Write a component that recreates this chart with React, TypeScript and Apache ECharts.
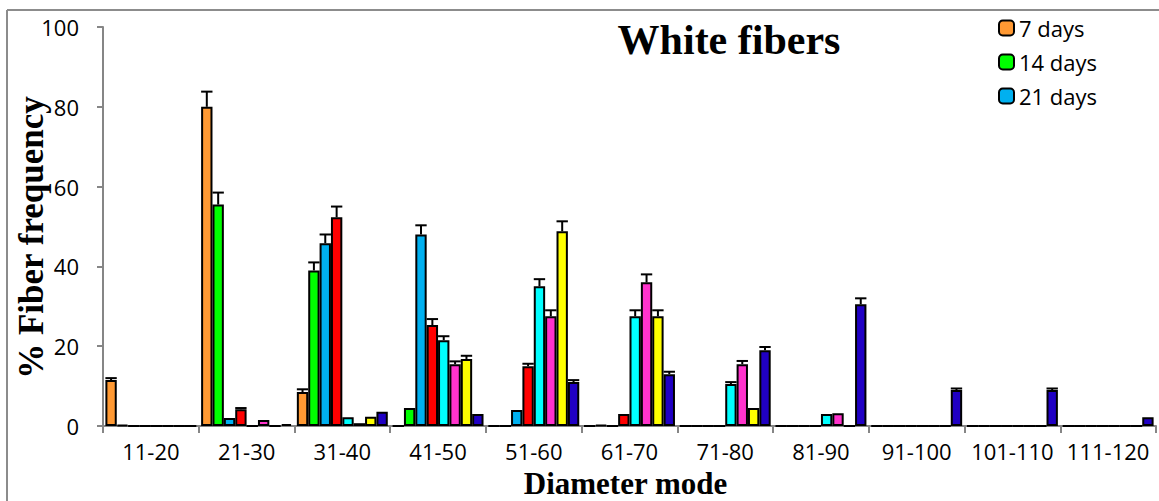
import React, { useEffect, useRef } from "react";
import * as echarts from "echarts";

const categories = ["11-20", "21-30", "31-40", "41-50", "51-60", "61-70", "71-80", "81-90", "91-100", "101-110", "111-120"];
const seriesNames = ["7 days", "14 days", "21 days", "28 days", "35 days", "42 days", "49 days", "56 days"];
const legendNames = ["7 days", "14 days", "21 days"];
const colors = ["#FF9933", "#00FF00", "#00B0F0", "#FF0000", "#00FFFF", "#FF33CC", "#FFFF00", "#2000C4"];
const yTicks = [0, 20, 40, 60, 80, 100];

const d7 = [11.5, 80, 8.5, 0, 0, 0, 0, 0, 0, 0, 0];
const d14 = [0.3, 55.5, 39, 4.5, 0, 0.2, 0, 0, 0, 0, 0];
const d21 = [0, 2, 45.8, 48, 4, 0, 0, 0, 0, 0, 0];
const d28 = [0, 4.2, 52.3, 25.3, 15, 3, 0, 0, 0, 0, 0];
const d35 = [0, 0, 2.2, 21.5, 35, 27.5, 10.5, 3, 0, 0, 0];
const d42 = [0, 1.5, 0.7, 15.5, 27.5, 36, 15.5, 3.2, 0, 0, 0];
const d49 = [0, 0, 2.3, 16.8, 48.8, 27.5, 4.5, 0, 0, 0, 0];
const d56 = [0, 0.5, 3.6, 3, 11, 13, 19, 30.5, 9, 9, 2.2];

const e7 = [0.5, 3.8, 0.7, 0, 0, 0, 0, 0, 0, 0, 0];
const e14 = [0, 3, 2, 0, 0, 0, 0, 0, 0, 0, 0];
const e21 = [0, 0, 2.2, 2.3, 0, 0, 0, 0, 0, 0, 0];
const e28 = [0, 0.3, 2.7, 1.5, 0.6, 0, 0, 0, 0, 0, 0];
const e35 = [0, 0, 0, 1, 1.8, 1.5, 0.5, 0, 0, 0, 0];
const e42 = [0, 0, 0, 0.7, 1.5, 2, 0.8, 0, 0, 0, 0];
const e49 = [0, 0, 0, 0.8, 2.5, 1.5, 0, 0, 0, 0, 0];
const e56 = [0, 0, 0, 0, 0.5, 0.6, 0.8, 1.5, 0.4, 0.4, 0];

const values = [d7, d14, d21, d28, d35, d42, d49, d56];
const errors = [e7, e14, e21, e28, e35, e42, e49, e56];

const GAP = 0.05;

export default function App() {
  const ref = useRef<HTMLDivElement>(null);
  useEffect(() => {
    if (!ref.current) return;
    const chart = echarts.init(ref.current, null, { renderer: "svg" });
    const nS = values.length;
    const errData: number[][] = [];
    values.forEach((arr, s) => {
      arr.forEach((v, i) => {
        if (errors[s][i] > 0) errData.push([i, s, v, errors[s][i]]);
      });
    });
    const barSeries = values.map((arr, s) => ({
      name: seriesNames[s],
      type: "bar",
      data: arr,
      barGap: "0%",
      barCategoryGap: GAP * 100 + "%",
      itemStyle: { color: colors[s], borderColor: "#000", borderWidth: 2 },
    }));
    const errSeries = {
      type: "custom",
      silent: true,
      z: 5,
      encode: { x: 0, y: 2 },
      data: errData,
      renderItem: (params: any, api: any) => {
        const i = api.value(0);
        const s = api.value(1);
        const v = api.value(2);
        const e = api.value(3);
        const band = api.size([1, 0])[0];
        const barW = (band * (1 - GAP)) / nS;
        const base = api.coord([i, v]);
        const top = api.coord([i, v + e]);
        const x = base[0] - (band * (1 - GAP)) / 2 + barW * (s + 0.5);
        const half = barW / 2;
        const st = { stroke: "#000", lineWidth: 2 };
        return {
          type: "group",
          children: [
            { type: "line", shape: { x1: x, y1: base[1], x2: x, y2: top[1] }, style: st },
            { type: "line", shape: { x1: x - half, y1: top[1], x2: x + half, y2: top[1] }, style: st },
          ],
        };
      },
    };
    chart.setOption({
      animation: false,
      backgroundColor: "#fff",
      textStyle: { fontFamily: "Open Sans" },
      grid: { left: 103, right: 3, top: 27, bottom: 75, containLabel: false, outerBoundsMode: "none" },
      legend: {
        data: legendNames,
        orient: "vertical",
        left: 993,
        top: 12,
        itemWidth: 15,
        itemHeight: 15,
        itemGap: 12,
        textStyle: { fontSize: 22, color: "#000", fontFamily: "Open Sans" },
      },
      xAxis: {
        type: "category",
        data: categories,
        name: "Diameter mode",
        nameLocation: "middle",
        nameGap: 42,
        nameTextStyle: { fontFamily: "Liberation Serif", fontWeight: "bold", fontSize: 31, color: "#000", padding: [0, 8, 0, 0] },
        axisLine: { lineStyle: { color: "#868686", width: 2 } },
        axisTick: { show: true, length: 7, lineStyle: { color: "#868686", width: 2 } },
        axisLabel: { fontSize: 22, color: "#000", margin: 14, interval: 0, fontFamily: "Open Sans" },
      },
      yAxis: {
        type: "value",
        min: yTicks[0],
        max: yTicks[yTicks.length - 1],
        interval: 20,
        name: "% Fiber frequency",
        nameLocation: "middle",
        nameGap: 54,
        nameMoveOverlap: false,
        nameRotate: 90,
        nameTextStyle: { fontFamily: "Liberation Serif", fontWeight: "bold", fontSize: 35, color: "#000", padding: [0, 22, 0, 0] },
        axisLine: { show: true, lineStyle: { color: "#868686", width: 2 } },
        axisTick: { show: true, length: 6, lineStyle: { color: "#868686", width: 2 } },
        splitLine: { show: false },
        axisLabel: { fontSize: 22, color: "#000", margin: 24, fontFamily: "Open Sans" },
      },
      graphic: [
        { type: "line", shape: { x1: 7, y1: 10, x2: 1159, y2: 10 }, style: { stroke: "#8c8c8c", lineWidth: 2 } },
        { type: "line", shape: { x1: 7, y1: 10, x2: 7, y2: 501 }, style: { stroke: "#8c8c8c", lineWidth: 2 } },
        {
          type: "text",
          x: 729,
          y: 40,
          style: {
            text: "White fibers",
            fontFamily: "Liberation Serif",
            fontWeight: "bold",
            fontSize: 42,
            fill: "#000",
            textAlign: "center",
            textVerticalAlign: "middle",
          },
        },
      ],
      series: [...barSeries, errSeries],
    });
    return () => chart.dispose();
  }, []);
  return <div ref={ref} style={{ width: 1159, height: 501, position: "absolute", left: 0, top: 0 }} />;
}
